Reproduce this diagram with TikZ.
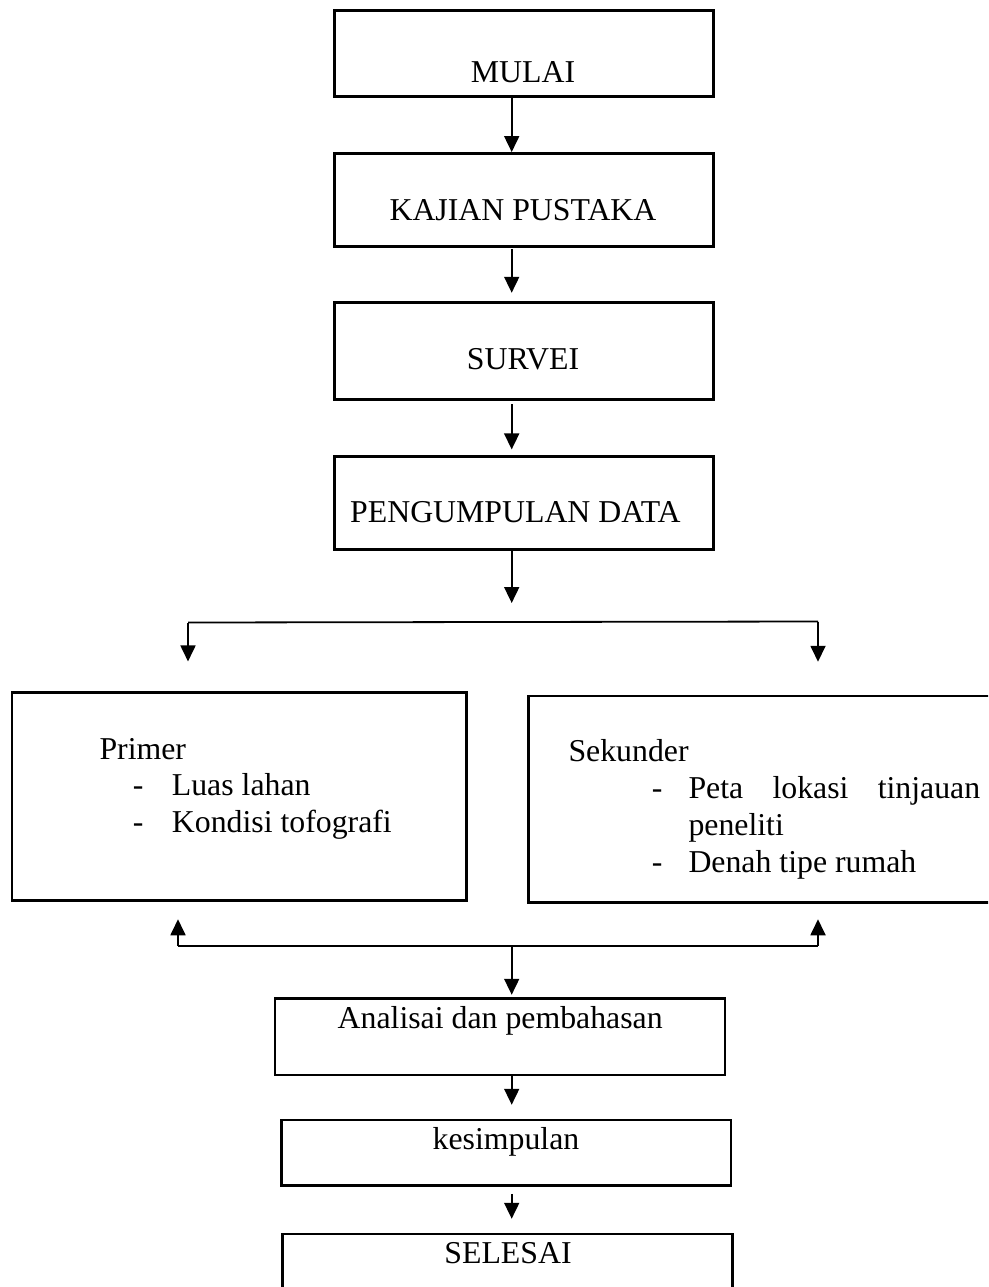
\documentclass[tikz,border=0pt]{standalone}
\usepackage{fontspec}
\setmainfont{Liberation Serif}
\usetikzlibrary{arrows.meta}
\begin{document}
\begin{tikzpicture}[x=1pt,y=-1pt,
  box/.style={draw=black,line width=2.5pt,rectangle,inner sep=0pt},
  txt/.style={inner sep=0pt,font=\fontsize{31.8}{38}\selectfont},
  arr/.style={line width=1.8pt,-{Triangle[width=15pt,length=16pt]}},
  conn/.style={line width=1.8pt}]
\useasboundingbox (0,0) rectangle (988,1287);
\clip (0,0) rectangle (988,1287);
\fill[white] (0,0) rectangle (988,1287);
% boxes
\node[box,minimum width=378.6pt,minimum height=86pt] (mulai) at (524,53.7) {};
\node[box,minimum width=378.6pt,minimum height=93.4pt] (kajian) at (524,200) {};
\node[box,minimum width=378.6pt,minimum height=96.6pt] (survei) at (524,351) {};
\node[box,minimum width=378.6pt,minimum height=92.6pt] (peng) at (524,503) {};
\node[box,minimum width=454.7pt,minimum height=208pt] (primer) at (239.35,796.7) {};
\node[box,minimum width=480pt,minimum height=206.7pt] (sekunder) at (768.7,799.35) {};
\node[box,minimum width=450pt,minimum height=76.3pt] (analisa) at (500,1036.85) {};
\node[box,minimum width=449.3pt,minimum height=65.7pt] (kesimpulan) at (506.35,1152.85) {};
\node[box,minimum width=450pt,minimum height=80pt] (selesai) at (507.7,1274) {};
% texts
\node[txt,anchor=base] (tmulai) at (523,82.7) {MULAI};
\node[txt,anchor=base] (tkajian) at (523,220) {KAJIAN PUSTAKA};
\node[txt,anchor=base] (tsurvei) at (523,369) {SURVEI};
\node[txt,anchor=base west] (tpeng) at (350,522.7) {PENGUMPULAN DATA};
\node[txt,anchor=base west] (tprimer) at (99.3,759.3) {Primer};
\node[txt,anchor=base west] (d1) at (132.7,795) {-};
\node[txt,anchor=base west] (tluas) at (171.7,795) {Luas lahan};
\node[txt,anchor=base west] (d2) at (132.7,832.7) {-};
\node[txt,anchor=base west] (tkondisi) at (171.7,832.7) {Kondisi tofografi};
\node[txt,anchor=base west] (tsek) at (568.3,761.7) {Sekunder};
\node[txt,anchor=base west] (d3) at (651.7,798.3) {-};
\node[txt,anchor=base west] (tpeta) at (688.3,798.3) {\makebox[291.7pt][s]{Peta lokasi tinjauan}};
\node[txt,anchor=base west] (tpenel) at (688.3,835) {peneliti};
\node[txt,anchor=base west] (d4) at (651.7,872.7) {-};
\node[txt,anchor=base west] (tdenah) at (688.3,872.7) {Denah tipe rumah};
\node[txt,anchor=base west] (tanalisa) at (337.5,1028) {Analisai dan pembahasan};
\node[txt,anchor=base] (tkes) at (506,1149.3) {kesimpulan};
\node[txt,anchor=base] (tsel) at (508,1263.3) {SELESAI};
% connector coordinates
\coordinate (ax) at (511.7,0);
\coordinate (jL) at (188,622.5);
\coordinate (jR) at (818,621.5);
\coordinate (bL) at (178,946);
\coordinate (bR) at (818,946);
\coordinate (bM) at (511.7,946);
% connectors
\draw[arr] (mulai.south -| ax) -- (kajian.north -| ax);
\draw[arr,shorten <=1pt,shorten >=8.7pt] (kajian.south -| ax) -- (survei.north -| ax);
\draw[arr,shorten <=3.5pt,shorten >=6pt] (survei.south -| ax) -- (peng.north -| ax);
\draw[arr,shorten <=0.5pt,shorten >=19.5pt] (peng.south -| ax) -- (ax |- jL);
\draw[conn] (jL) -- (jR);
\draw[arr,shorten >=30pt] (jL) -- (jL |- primer.north);
\draw[arr,shorten >=33pt] (jR) -- (jR |- sekunder.north);
\draw[arr,shorten >=17.3pt] (bL) -- (bL |- primer.south);
\draw[arr,shorten >=15.3pt] (bR) -- (bR |- sekunder.south);
\draw[conn] (bL) -- (bR);
\draw[arr,shorten >=2.7pt] (bM) -- (analisa.north -| ax);
\draw[arr,shorten >=14pt] (analisa.south -| ax) -- (kesimpulan.north -| ax);
\draw[arr,shorten <=7pt,shorten >=14pt] (kesimpulan.south -| ax) -- (selesai.north -| ax);
\end{tikzpicture}
\end{document}
